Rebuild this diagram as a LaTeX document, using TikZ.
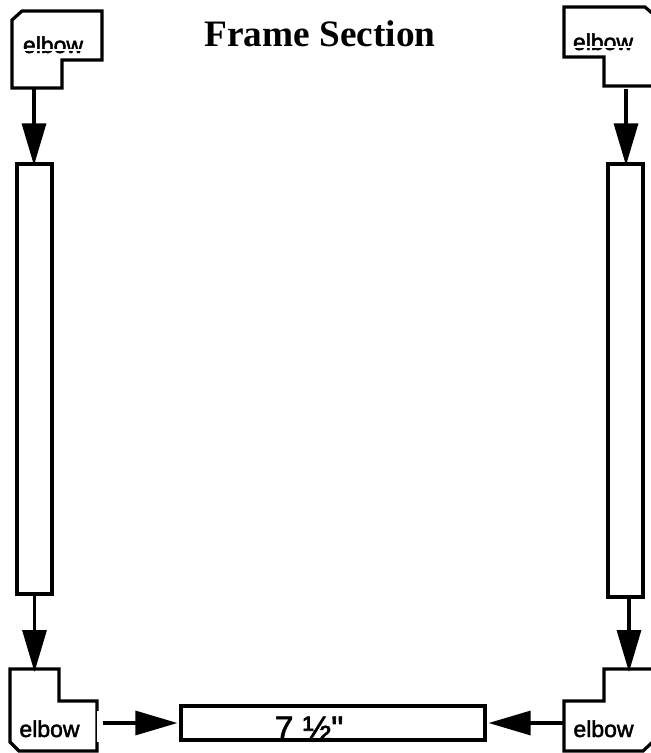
\documentclass[tikz,border=0pt]{standalone}
\usepackage{fontspec}
\setmainfont{Liberation Sans}
\newfontfamily\lblfont[FakeBold=2]{Liberation Sans}
\newfontfamily\titlefont{Liberation Serif}
\usetikzlibrary{arrows.meta,positioning,calc}
\tikzset{
  outline/.style={draw,line width=3.2pt,line join=miter},
  bar/.style={outline,inner sep=0pt,minimum width=35pt},
  lbl/.style={inner sep=0pt,font=\lblfont\fontsize{23}{24}\selectfont,anchor=base},
  arr/.style={-{Triangle[length=42pt,width=24pt]},line width=3.2pt,shorten >=-3pt},
}

\begin{document}
\begin{tikzpicture}[x=1pt,y=-1pt]
        \clip (0,0) rectangle (651,753);
        % elbows
        \draw[outline] (12,20) -- (22,11) -- (102,11) -- (102,60) -- (62,60) -- (62,88) -- (12,88) -- cycle;
        \draw[outline] (564,7) -- (645,7) -- (660,20) -- (660,86) -- (604,86) -- (604,57) -- (564,57) -- cycle;
        \draw[outline] (10,669) -- (59,669) -- (59,701) -- (97,701) -- (97,751) -- (19,751) -- (10,742) -- cycle;
        \draw[outline] (564,701) -- (604,701) -- (604,669) -- (660,669) -- (660,735) -- (643,751) -- (564,751) -- cycle;
        \fill[white] (97,711) rectangle (99,742);
        \node[lbl] (elbowA) at (53,53) {elbow};
        \node[lbl] (elbowB) at (603,50) {elbow};
        \node[lbl] (elbowC) at (49.5,737) {elbow};
        \node[lbl] (elbowD) at (603.5,737) {elbow};
        % the strip through the two upper labels
        \fill[white] (20,49) rectangle (90,50.5);
        \fill[white] (568,46) rectangle (638,47.5);
        % sections
        \node[bar,minimum height=430pt] (barL) at (34.5,379) {};
        \node[bar,minimum height=433pt] (barR) at (625.5,380.5) {};
        \node[outline,inner sep=0pt,minimum width=304pt,minimum height=34pt] (barB) at (333,723) {};
        \node[inner sep=0pt,font=\lblfont\fontsize{34}{36}\selectfont,anchor=base] (size) at (309,740) {7 ½"};
        \node[inner sep=0pt,font=\titlefont\bfseries\fontsize{37.3}{39}\selectfont,anchor=base] (title) at (320,46) {Frame Section};
        % connectors
        \coordinate (startA) at (34,88);
        \coordinate (startB) at (626,89);
        \coordinate (startC) at (103,723);
        \coordinate (startD) at (563,723);
        \coordinate (endC) at (34.5,669);
        \coordinate (endD) at (629,669);
        \draw[arr] (startA) -- (barL.north -| startA);
        \draw[arr] (startB) -- (barR.north -| startB);
        \draw[arr] (barL.south) -- (endC);
        \draw[arr] (barR.south -| endD) -- (endD);
        \draw[arr,shorten >=2pt] (startC) -- (barB.west);
        \draw[arr,shorten >=2pt] (startD) -- (barB.east);
      \end{tikzpicture}
\end{document}
